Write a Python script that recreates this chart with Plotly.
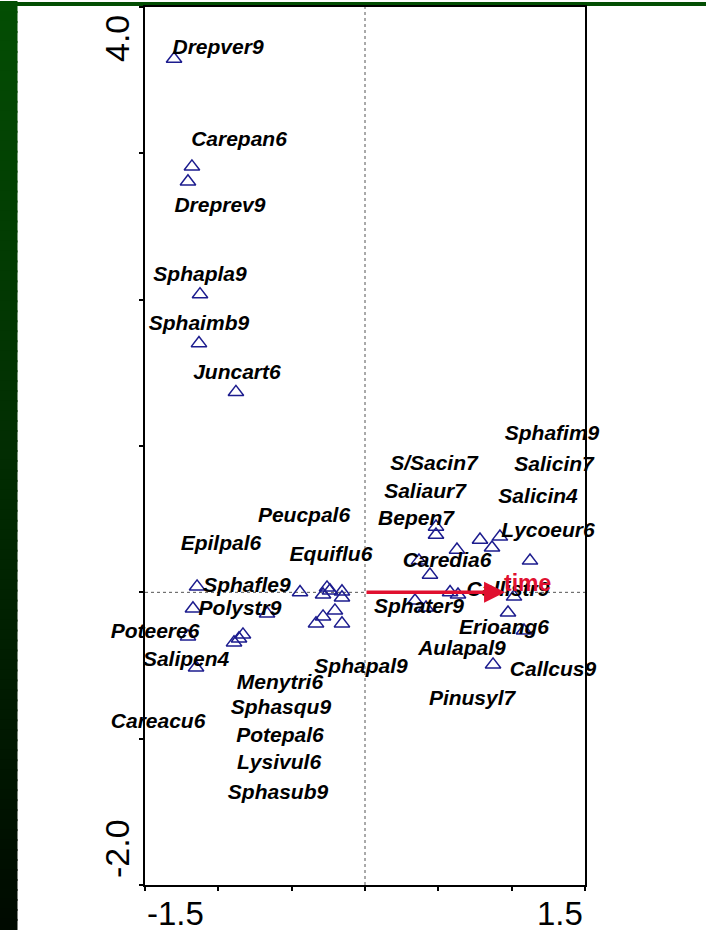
import plotly.graph_objects as go

# ---- data (ordination scores) ----
point_x = [-1.302, -1.180, -1.207, -1.125, -1.132, -0.880, -1.145, -0.443, -0.259, -0.286,
           -0.239, -0.157, -0.157, -0.205, -0.286, -0.334, -0.157, -1.173, -0.668, -1.207,
           -0.832, -0.859, -0.893, -1.152, 0.484, 0.484, 0.627, 0.784, 0.866, 0.920,
           1.125, 0.368, 0.443, 0.580, 0.634, 0.341, 0.416, 1.016, 0.975, 1.084, 0.873]
point_y = [3.645, 2.909, 2.807, 2.036, 1.702, 1.368, 0.039, 0.000, 0.032, -0.016,
           0.012, 0.005, -0.036, -0.125, -0.166, -0.213, -0.213, -0.111, -0.145, -0.302,
           -0.289, -0.316, -0.343, -0.514, 0.448, 0.393, 0.291, 0.359, 0.305, 0.380,
           0.216, 0.216, 0.120, 0.000, -0.016, -0.057, -0.105, -0.030, -0.139, -0.262, -0.494]

species = ["Drepver9", "Carepan6", "Dreprev9", "Sphapla9", "Sphaimb9", "Juncart6", "Peucpal6",
           "Epilpal6", "Equiflu6", "Salirep4", "Sphafle9", "Polystr9", "Poteere6", "Salipen4",
           "Sphacap9", "Careacu6", "Menytri6", "Sphasqu9", "Potepal6", "Lysivul6", "Sphasub9",
           "Sphapal9", "Sphafim9", "S/Sacin7", "Salicin7", "Saliaur7", "Salicin4", "Bidefro6",
           "Bepen7", "Lycoeur6", "Caredia6", "Drepexa9", "Callistr9", "Sphater9", "Sphafal9",
           "Erioang6", "Aulapal9", "Callcus9", "Pinusyl7"]
label_x = [-1.002, -0.859, -0.989, -1.125, -1.132, -0.873, -0.416,
           -0.982, -0.232, -1.616, -0.805, -0.852, -1.432, -1.220,
           -1.520, -1.411, -0.580, -0.573, -0.580, -0.586, -0.593,
           -0.027, 1.275, 0.470, 1.289, 0.409, 1.180, 1.943,
           0.348, 1.248, 0.559, 1.820, 0.975, 0.368, 1.568,
           0.948, 0.661, 1.282, 0.730]
label_y = [3.714, 3.086, 2.636, 2.166, 1.832, 1.491, 0.516,
           0.325, 0.250, 0.168, 0.039, -0.118, -0.275, -0.466,
           -0.668, -0.893, -0.627, -0.798, -0.989, -1.173, -1.377,
           -0.518, 1.077, 0.873, 0.866, 0.682, 0.648, 0.627,
           0.498, 0.416, 0.211, 0.089, 0.014, -0.102, -0.095,
           -0.252, -0.389, -0.539, -0.736]

env_name = "time"
env_x = 0.955
env_y = 0.0
env_label_x = 1.111
env_label_y = 0.061

x_range = [-1.5, 1.5]
y_range = [-2.0, 4.0]
x_tick_vals = [-1.5, -1.0, -0.5, 0.0, 0.5, 1.0, 1.5]
y_tick_vals = [-2.0, -1.0, 0.0, 1.0, 2.0, 3.0, 4.0]
x_tick_labels = {-1.5: "-1.5", 1.5: "1.5"}
y_tick_labels = {-2.0: "-2.0", 4.0: "4.0"}

# ---- figure ----
W, H = 706, 930
ML, MR, MT, MB = 145, 121, 5, 45
PW, PH = W - ML - MR, H - MT - MB

FONT = "Liberation Sans, Arial, Helvetica, sans-serif"
NAVY = "#1c1c8e"
RED = "#e0102f"

fig = go.Figure()

fig.add_trace(go.Scatter(
    x=point_x, y=point_y, mode="markers",
    marker=dict(symbol="triangle-up-open", size=13.5, color=NAVY, line=dict(width=1.5, color=NAVY)),
    hoverinfo="skip", showlegend=False, cliponaxis=False))

fig.add_trace(go.Scatter(
    x=label_x, y=label_y, mode="text", text=species,
    textposition="middle center",
    textfont=dict(family=FONT, size=21, color="black", weight="bold", style="italic"),
    hoverinfo="skip", showlegend=False, cliponaxis=False))

# ---- background decoration (dark green gradient frame) ----
def px_to_paper_x(px):
    return (px - ML) / PW

def px_to_paper_y(py):
    return (H - MB - py) / PH

shapes = []
top_c = (3, 78, 3)
bot_c = (0, 10, 0)
n_bands = 93
band_h = H / n_bands
for i in range(n_bands):
    t = (i + 0.5) / n_bands
    c = tuple(round(top_c[k] + (bot_c[k] - top_c[k]) * t) for k in range(3))
    shapes.append(dict(
        type="rect", xref="paper", yref="paper", layer="below",
        x0=px_to_paper_x(0), x1=px_to_paper_x(17.5),
        y0=px_to_paper_y(i * band_h - 1), y1=px_to_paper_y((i + 1) * band_h + 1),
        fillcolor="rgb(%d,%d,%d)" % c, line=dict(width=0)))
shapes.append(dict(
    type="rect", xref="paper", yref="paper", layer="below",
    x0=px_to_paper_x(0), x1=px_to_paper_x(W),
    y0=px_to_paper_y(0), y1=px_to_paper_y(4),
    fillcolor="rgb(%d,%d,%d)" % top_c, line=dict(width=0)))

# dotted zero lines
shapes.append(dict(type="line", xref="x", yref="y", x0=0, x1=0, y0=y_range[0], y1=y_range[1],
                   line=dict(color="#555555", width=1, dash="dot"), layer="below"))
shapes.append(dict(type="line", xref="x", yref="y", x0=x_range[0], x1=x_range[1], y0=0, y1=0,
                   line=dict(color="#555555", width=1, dash="dot"), layer="below"))

annotations = []
# environmental arrow
annotations.append(dict(
    x=env_x, y=env_y, ax=0, ay=0, xref="x", yref="y", axref="x", ayref="y",
    text="", showarrow=True, arrowhead=2, arrowsize=1.2, arrowwidth=3.5,
    arrowcolor=RED, standoff=0))
annotations.append(dict(
    x=env_label_x, y=env_label_y, xref="x", yref="y", text=env_name, showarrow=False,
    font=dict(family=FONT, size=23, color=RED, weight="bold"),
    xanchor="center", yanchor="middle"))

# tick labels placed inward like the original
for v, s in x_tick_labels.items():
    annotations.append(dict(
        x=v, y=0, xref="x", yref="paper", text=s, showarrow=False,
        font=dict(family=FONT, size=33, color="black"),
        xanchor="center", yanchor="middle",
        xshift=30 if v < 0 else -25, yshift=-28))
for v, s in y_tick_labels.items():
    annotations.append(dict(
        x=0, y=v, xref="paper", yref="y", text=s, showarrow=False, textangle=-90,
        font=dict(family=FONT, size=34, color="black"),
        xanchor="center", yanchor="middle",
        xshift=-28, yshift=-32 if v > 0 else 36))

axis_common = dict(
    showgrid=False, zeroline=False, showline=True, linecolor="black", linewidth=2,
    mirror=True, ticks="outside", ticklen=4, tickwidth=1.5, tickcolor="black",
    showticklabels=False)

fig.update_layout(
    width=W, height=H,
    margin=dict(l=ML, r=MR, t=MT, b=MB, pad=0),
    paper_bgcolor="white", plot_bgcolor="white",
    xaxis=dict(range=x_range, tickvals=x_tick_vals, **axis_common),
    yaxis=dict(range=y_range, tickvals=y_tick_vals, **axis_common),
    shapes=shapes, annotations=annotations,
    showlegend=False)

fig.write_html("out.html",
               config={"displayModeBar": False},
               post_script="document.body.style.margin='0';document.body.style.padding='0';document.body.style.overflow='hidden';")
